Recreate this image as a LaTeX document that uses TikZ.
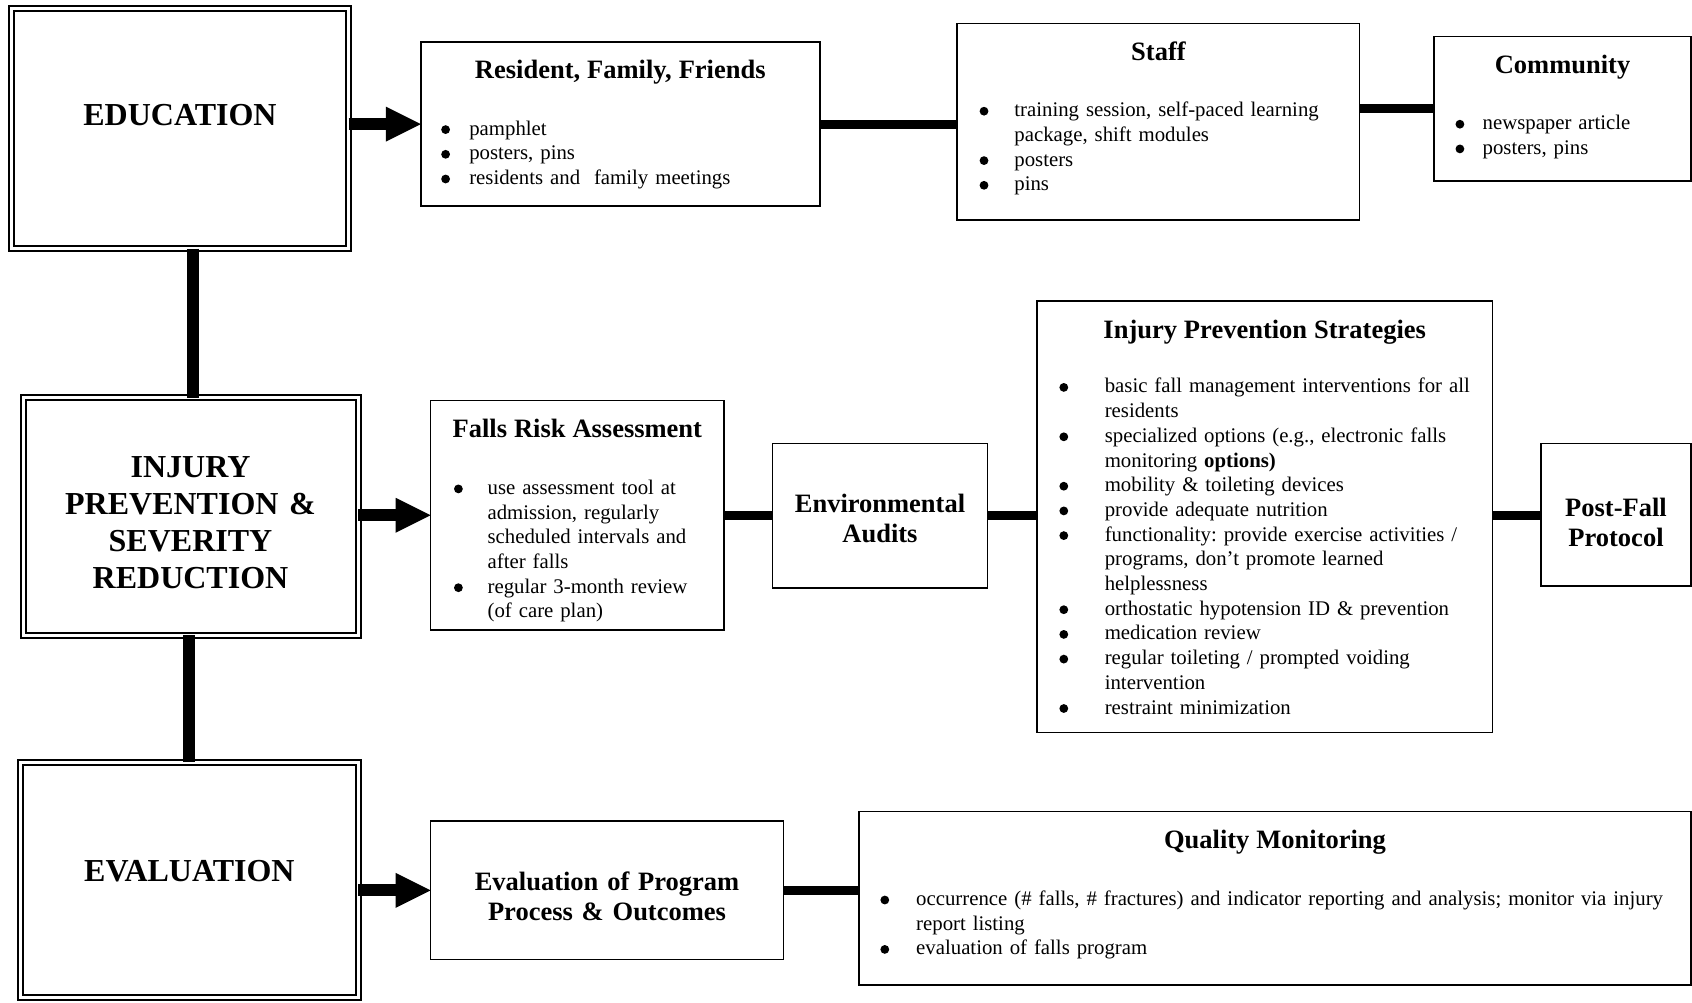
\documentclass[tikz,border=0pt]{standalone}
\usepackage{fontspec}
\setmainfont{Liberation Serif}
\usetikzlibrary{arrows.meta}
\frenchspacing

\newcommand{\bodysize}{\fontsize{20.8}{24.7}\selectfont}
\newcommand{\ttlsize}{\fontsize{26.5}{30.2}\selectfont\bfseries}
\newcommand{\bigsize}{\fontsize{32}{37}\selectfont\bfseries}
\newcommand{\ttl}[2][32pt]{\noindent\makebox[\linewidth]{\ttlsize #2}\par\vspace{#1}}
\newcommand{\bigbul}{\kern-0.6pt\tikz[baseline=-5.5pt]\fill (0,0) circle (4.4pt);}
\newcommand{\bul}[2]{\par\noindent\hangindent=#1\hangafter=1\rightskip=-60pt plus 1fil\makebox[#1][l]{\bigbul}#2\par}

\begin{document}
\begin{tikzpicture}[x=1pt,y=-1pt,
    box/.style={draw,line width=1.5pt,anchor=north west,outer sep=0pt,inner ysep=0pt,font=\bodysize},
    headbox/.style={box,font=\ttlsize,align=center,inner xsep=4pt},
    mainbox/.style={draw,double,line width=2pt,double distance=3pt,anchor=north west,outer sep=0pt,
      inner ysep=0pt,inner xsep=4pt,font=\bigsize,align=center},
    link/.style={line width=9pt},
    bigarrow/.style={line width=12pt,-{Triangle[length=35pt,width=35pt,line width=0pt]}}]
  \useasboundingbox (0,0) rectangle (1692,1002);

  % left column
  \node[mainbox,text width=329pt,text height=117.7pt,text depth=122.8pt] (edu) at (11.5,8) {EDUCATION};
  \node[mainbox,text width=327pt,text height=80.4pt,text depth=157.4pt] (inj) at (23,397.5)
    {INJURY\\PREVENTION \&\\SEVERITY\\REDUCTION};
  \node[mainbox,text width=329.2pt,text height=119.5pt,text depth=116pt] (eval) at (20.8,762) {EVALUATION};

  % education row
  \node[box,inner xsep=21pt,text width=357pt,text height=36.3pt,text depth=127.7pt] (rff) at (420.8,42.1)
    {\ttl{Resident, Family, Friends}
     \bul{27.5pt}{pamphlet}
     \bul{27.5pt}{posters, pins}
     \bul{27.5pt}{residents and\ \ family meetings}};
  \node[box,inner xsep=23pt,text width=356.5pt,text height=36.3pt,text depth=160.1pt] (staff) at (957.2,23.7)
    {\ttl{Staff}
     \bul{34.2pt}{training session, self-paced learning\newline package, shift modules}
     \bul{34.2pt}{posters}
     \bul{34.2pt}{pins}};
  \node[box,inner xsep=22pt,text width=212.9pt,text height=36.3pt,text depth=108pt] (comm) at (1434.1,36.7)
    {\ttl{Community}
     \bul{26.5pt}{newspaper article}
     \bul{26.5pt}{posters, pins}};

  % injury prevention row
  \node[box,inner xsep=24pt,text width=245.5pt,text height=37.4pt,text depth=192.5pt] (fra) at (430.6,400.3)
    {\ttl{Falls Risk Assessment}
     \bul{33pt}{use assessment tool at\newline admission, regularly\newline scheduled intervals and\newline after falls}
     \bul{33pt}{regular 3-month review\newline (of care plan)}};
  \node[headbox,text width=206.8pt,text height=69pt,text depth=75.6pt] (env) at (772.6,443.5)
    {Environmental\\Audits};
  \node[box,inner xsep=23pt,text width=409.4pt,text height=37.3pt,text depth=394.3pt] (ips) at (1037,301.1)
    {\ttl[29.8pt]{Injury Prevention Strategies}
     \bul{44.8pt}{basic fall management interventions for all\newline residents}
     \bul{44.8pt}{specialized options (e.g., electronic falls\newline monitoring \textbf{options)}}
     \bul{44.8pt}{mobility \& toileting devices}
     \bul{44.8pt}{provide adequate nutrition}
     \bul{44.8pt}{functionality: provide exercise activities /\newline programs, don’t promote learned\newline helplessness}
     \bul{44.8pt}{orthostatic hypotension ID \& prevention}
     \bul{44.8pt}{medication review}
     \bul{44.8pt}{regular toileting / prompted voiding\newline intervention}
     \bul{44.8pt}{restraint minimization}};
  \node[headbox,text width=142pt,text height=73pt,text depth=69.5pt] (pf) at (1541,443.5)
    {Post-Fall\\Protocol};

  % evaluation row
  \node[headbox,text width=344.8pt,text height=69pt,text depth=69.3pt] (evp) at (430.6,821.2)
    {Evaluation of Program\\Process \& Outcomes};
  \node[box,inner xsep=22pt,text width=788pt,text height=37.3pt,text depth=136.4pt] (qm) at (859,811.5)
    {\ttl{Quality Monitoring}
     \bul{35.2pt}{occurrence (\# falls, \# fractures) and indicator reporting and analysis; monitor via injury\newline report listing}
     \bul{35.2pt}{evaluation of falls program}};

  \draw[bigarrow] (edu.east |- rff.west) -- (rff.west);
  \draw[bigarrow] (inj.east |- fra.west) -- (fra.west);
  \draw[bigarrow] (eval.east |- evp.west) -- (evp.west);
  \draw[link] (rff.east) -- (rff.east -| staff.west);
  \draw[link] (comm.west -| staff.east) -- (comm.west);
  \draw[link] (fra.east |- env.west) -- (env.west);
  \draw[link] (env.east) -- (env.east -| ips.west);
  \draw[link] (ips.east |- env.east) -- (env.east -| pf.west);
  \draw[link] (evp.east) -- (evp.east -| qm.west);
  \draw[link,line width=12pt] ([xshift=2.5pt]edu.south -| inj.north) -- ([xshift=2.5pt]inj.north);
  \draw[link,line width=12pt] (inj.south -| eval.north) -- (eval.north);
\end{tikzpicture}
\end{document}
